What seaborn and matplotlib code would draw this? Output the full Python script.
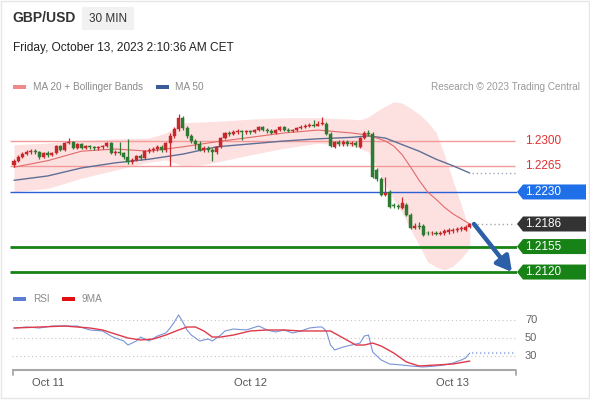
import numpy as np
import pandas as pd
import matplotlib
matplotlib.use("Agg")
import matplotlib.pyplot as plt
import seaborn as sns
from matplotlib.patches import Polygon, Rectangle
from matplotlib.transforms import blended_transform_factory

# ---------------- data ----------------
opens = [1.2267,1.2273,1.2278,1.2282,1.2285,1.2286,1.2285,1.2278,1.2284,1.2281,
         1.2284,1.2293,1.2288,1.2297,1.2299,1.2290,1.2296,1.2290,1.2293,1.2292,
         1.2290,1.2292,1.2293,1.2297,1.2284,1.2285,1.2284,1.2278,1.2271,1.2274,
         1.2279,1.2277,1.2286,1.2288,1.2289,1.2292,1.2288,1.2297,1.2307,1.2316,
         1.2332,1.2318,1.2307,1.2300,1.2296,1.2288,1.2290,1.2288,1.2285,1.2292,
         1.2304,1.2311,1.2310,1.2312,1.2314,1.2312,1.2313,1.2312,1.2315,1.2319,
         1.2315,1.2314,1.2311,1.2315,1.2319,1.2315,1.2314,1.2315,1.2318,1.2319,
         1.2321,1.2322,1.2321,1.2323,1.2323,1.2310,1.2292,1.2299,1.2296,1.2299,
         1.2296,1.2297,1.2292,1.2304,1.2311,1.2310,1.2260,1.2248,1.2226,1.2230,
         1.2212,1.2211,1.2208,1.2212,1.2198,1.2180,1.2183,1.2183,1.2174,1.2173,
         1.2174,1.2172,1.2173,1.2175,1.2176,1.2178,1.2179,1.2178,1.2182]
closes = [1.2273,1.2278,1.2282,1.2285,1.2286,1.2285,1.2278,1.2284,1.2281,1.2284,
          1.2293,1.2288,1.2297,1.2299,1.2290,1.2296,1.2290,1.2293,1.2292,1.2290,
          1.2292,1.2293,1.2297,1.2284,1.2285,1.2284,1.2278,1.2271,1.2274,1.2279,
          1.2277,1.2286,1.2288,1.2289,1.2292,1.2288,1.2297,1.2307,1.2316,1.2332,
          1.2318,1.2307,1.2300,1.2296,1.2288,1.2290,1.2288,1.2285,1.2292,1.2304,
          1.2311,1.2310,1.2312,1.2314,1.2312,1.2313,1.2312,1.2315,1.2319,1.2315,
          1.2314,1.2311,1.2315,1.2319,1.2315,1.2314,1.2315,1.2318,1.2319,1.2321,
          1.2322,1.2321,1.2323,1.2325,1.2310,1.2293,1.2299,1.2296,1.2299,1.2296,
          1.2297,1.2295,1.2304,1.2311,1.2310,1.2251,1.2248,1.2226,1.2229,1.2209,
          1.2211,1.2209,1.2215,1.2198,1.2180,1.2183,1.2182,1.2171,1.2173,1.2174,
          1.2172,1.2173,1.2176,1.2178,1.2178,1.2179,1.2181,1.2182,1.2186]
highs = [1.2275,1.2281,1.2285,1.2288,1.2289,1.2289,1.2286,1.2285,1.2286,1.2285,
         1.2295,1.2295,1.2299,1.2304,1.2300,1.2297,1.2297,1.2295,1.2295,1.2293,
         1.2293,1.2295,1.2299,1.2299,1.2288,1.2299,1.2285,1.2303,1.2277,1.2281,
         1.2282,1.2288,1.2290,1.2292,1.2295,1.2295,1.2299,1.2311,1.2319,1.2337,
         1.2334,1.2321,1.2310,1.2303,1.2300,1.2293,1.2293,1.2290,1.2293,1.2305,
         1.2312,1.2314,1.2315,1.2316,1.2315,1.2315,1.2315,1.2316,1.2321,1.2321,
         1.2318,1.2316,1.2316,1.2321,1.2321,1.2318,1.2316,1.2319,1.2322,1.2323,
         1.2325,1.2329,1.2327,1.2333,1.2326,1.2312,1.2300,1.2301,1.2301,1.2301,
         1.2300,1.2300,1.2305,1.2314,1.2315,1.2312,1.2263,1.2251,1.2251,1.2233,
         1.2215,1.2214,1.2223,1.2215,1.2201,1.2188,1.2189,1.2186,1.2176,1.2176,
         1.2176,1.2176,1.2179,1.2180,1.2180,1.2182,1.2183,1.2184,1.2187]
lows = [1.2264,1.2271,1.2277,1.2281,1.2282,1.2282,1.2275,1.2277,1.2278,1.2280,
        1.2282,1.2286,1.2286,1.2296,1.2289,1.2289,1.2289,1.2289,1.2289,1.2288,
        1.2288,1.2289,1.2292,1.2282,1.2281,1.2281,1.2275,1.2268,1.2268,1.2273,
        1.2274,1.2275,1.2284,1.2285,1.2286,1.2285,1.2285,1.2266,1.2304,1.2314,
        1.2315,1.2304,1.2297,1.2289,1.2286,1.2285,1.2285,1.2273,1.2282,1.2290,
        1.2303,1.2307,1.2308,1.2310,1.2301,1.2310,1.2310,1.2311,1.2314,1.2314,
        1.2311,1.2310,1.2310,1.2314,1.2314,1.2312,1.2312,1.2314,1.2316,1.2318,
        1.2319,1.2319,1.2321,1.2322,1.2308,1.2292,1.2290,1.2293,1.2293,1.2293,
        1.2293,1.2292,1.2290,1.2303,1.2307,1.2249,1.2245,1.2224,1.2224,1.2208,
        1.2208,1.2207,1.2207,1.2197,1.2179,1.2179,1.2179,1.2170,1.2171,1.2171,
        1.2171,1.2171,1.2171,1.2172,1.2174,1.2175,1.2176,1.2176,1.2180]

ma20_idx = [0,8,16,24,32,40,48,56,64,72,80,84,88,90,92,94,96,98,100,102,104,106,108]
ma20 = [1.2264,1.2273,1.2286,1.2289,1.2286,1.2292,1.2299,1.2305,1.2311,1.2315,1.2311,1.2308,
        1.2300,1.2293,1.2281,1.2264,1.2246,1.2230,1.2220,1.2209,1.2200,1.2193,1.2186]
ma50_idx = [0,8,16,24,32,40,48,56,64,72,80,84,88,92,96,100,104,108]
ma50 = [1.2246,1.2252,1.2263,1.2270,1.2275,1.2282,1.2292,1.2296,1.2300,1.2303,1.2305,1.2307,
        1.2304,1.2295,1.2286,1.2275,1.2266,1.2256]
bb_idx = [0,8,16,24,32,36,40,44,48,56,64,72,80,82,84,86,88,90,92,94,96,98,100,102,104,106,108]
bb_upper = [1.2295,1.2297,1.2301,1.2303,1.2304,1.2311,1.2325,1.2326,1.2327,1.2330,1.2332,1.2332,
            1.2330,1.2329,1.2333,1.2341,1.2348,1.2354,1.2352,1.2345,1.2337,1.2326,1.2312,1.2281,
            1.2246,1.2212,1.2175]
bb_lower = [1.2230,1.2235,1.2249,1.2260,1.2271,1.2274,1.2266,1.2267,1.2271,1.2281,1.2290,1.2297,
            1.2293,1.2290,1.2285,1.2263,1.2240,1.2219,1.2201,1.2178,1.2157,1.2134,1.2127,1.2123,
            1.2128,1.2139,1.2153]

rsi_idx = [0,3,6,9,12,15,18,21,23,24,26,27,29,30,32,34,36,37,38,39,40,41,42,44,46,47,49,50,52,55,
           58,60,62,64,66,68,70,72,73,74,75,76,78,80,82,83,84,85,86,87,89,92,94,97,100,102,104,106,107,108]
rsi_val = [61.1,62.2,61.1,63.3,63.3,63.3,58.9,57.8,52.2,50.0,46.7,42.2,46.7,51.1,46.7,52.2,55.6,61.1,67.8,75.6,
           67.8,58.9,53.3,46.7,48.9,46.7,53.3,57.8,60.0,58.9,63.3,58.9,56.7,58.9,55.6,57.8,61.1,62.2,62.2,57.8,
           42.2,36.7,40.0,42.2,44.4,52.2,53.3,34.4,30.0,25.6,21.1,20.0,18.9,17.8,18.9,20.0,22.2,25.6,27.8,33.3]
ma9_idx = [0,6,12,18,21,24,27,30,33,36,39,41,43,45,47,49,52,56,60,64,68,72,75,78,81,83,85,87,90,93,96,100,104,108]
ma9_val = [61.1,62.2,63.3,61.1,58.9,54.4,50.0,47.8,48.9,53.3,58.9,62.2,62.2,57.8,51.1,51.1,53.3,57.8,58.9,58.9,
           57.8,57.8,57.8,50.0,42.2,42.2,44.4,41.1,33.3,23.3,18.9,20.0,21.1,24.4]

resistances = [1.2300, 1.2265]
pivot = 1.2230
last_price = 1.2186
supports = [1.2155, 1.2120]
target = 1.2120
rsi_levels = [70, 50, 30]
day_labels = ["Oct 11", "Oct 12", "Oct 13"]
day_idx = [8, 56, 104]

# ---------------- layout helpers ----------------
sns.set_style("white")
plt.rcParams['font.family'] = ['Liberation Sans', 'DejaVu Sans']

W, H = 590, 400
X0, PXB = 14.0, 4.22           # pixel of first bar, pixels per bar
Y_REF, P_REF, PX_PIP = 141.0, 1.2300, 0.728

def fx(px): return px / W
def fy(py): return 1 - py / H
def bar_at(px): return (px - X0) / PXB
def price_at(py): return P_REF - (py - Y_REF) / PX_PIP * 0.0001
def rsi_at(py): return 70 - (py - 320) / 0.9

fig = plt.figure(figsize=(W / 100, H / 100), dpi=100)
fig.patch.set_facecolor("white")

def rect_px(x0, y0, x1, y1, **kw):
    r = Rectangle((fx(x0), fy(y1)), (x1 - x0) / W, (y1 - y0) / H, transform=fig.transFigure, **kw)
    fig.add_artist(r)

# outer frame
rect_px(0.5, 0.5, 588.5, 397.5, facecolor="none", edgecolor="#e6e6e6", lw=1)

# header
fig.text(fx(12), fy(18), "GBP/USD", fontsize=10, fontweight="bold", color="#333333", va="center")
rect_px(82, 7, 134, 30, facecolor="#f1f1f1", edgecolor="none")
fig.text(fx(108), fy(19), "30 MIN", fontsize=8.5, color="#333333", va="center", ha="center")
fig.text(fx(13), fy(48), "Friday, October 13, 2023 2:10:36 AM CET", fontsize=8.6, color="#222222", va="center")

# legends
rect_px(13, 84.5, 26, 88.5, facecolor="#f08a8a", edgecolor="none")
fig.text(fx(33), fy(86.5), "MA 20 + Bollinger Bands", fontsize=7.2, color="#8a8a8a", va="center")
rect_px(156, 84.5, 169, 88.5, facecolor="#3a5a98", edgecolor="none")
fig.text(fx(175), fy(86.5), "MA 50", fontsize=7.2, color="#8a8a8a", va="center")
fig.text(fx(580), fy(86.5), "Research \u00a9 2023 Trading Central", fontsize=7.2, color="#9a9a9a",
         va="center", ha="right")
rect_px(13, 297, 26, 301, facecolor="#5b7fd6", edgecolor="none")
fig.text(fx(33), fy(299), "RSI", fontsize=7.2, color="#8a8a8a", va="center")
rect_px(62, 297, 75, 301, facecolor="#e01010", edgecolor="none")
fig.text(fx(82), fy(299), "9MA", fontsize=7.2, color="#8a8a8a", va="center")

# ---------------- main price axes ----------------
ax = fig.add_axes([fx(10), fy(280), fx(517) - fx(10), fy(95) - fy(280)])
ax.set_xlim(bar_at(10), bar_at(517))
ax.set_ylim(price_at(280), price_at(95))
ax.axis("off")

ax.fill_between(bb_idx, bb_lower, bb_upper, color="#fde0e0", lw=0, zorder=1)

xa, xb = bar_at(10), bar_at(515)
for r in resistances:
    ax.hlines(r, xa, xb, color="#f39a9a", lw=1.0, zorder=2)
ax.hlines(pivot, xa, bar_at(517), color="#2a5fd6", lw=1.0, zorder=2)
for s in supports:
    ax.hlines(s, xa, bar_at(517), color="#178317", lw=2.0, zorder=2)

df_ma20 = pd.DataFrame({"bar": ma20_idx, "price": ma20})
df_ma50 = pd.DataFrame({"bar": ma50_idx, "price": ma50})
sns.lineplot(data=df_ma50, x="bar", y="price", ax=ax, color="#5f6f96", lw=1.0, estimator=None, zorder=3)
sns.lineplot(data=df_ma20, x="bar", y="price", ax=ax, color="#e26a6a", lw=0.8, estimator=None, zorder=3)
ax.plot([ma50_idx[-1] + 0.5, bar_at(515)], [ma50[-1]] * 2, color="#9aa6bd", lw=1.0,
        ls=(0, (1, 2)), zorder=3)
ax.plot([len(closes) - 0.3, bar_at(515)], [last_price] * 2, color="#a8a8a8", lw=1.0,
        ls=(0, (1, 2)), zorder=3)

# candles
idx = np.arange(len(closes))
o = np.array(opens); c = np.array(closes); h = np.array(highs); l = np.array(lows)
up = c >= o
cols = np.where(up, "#c8282b", "#2f7a32")
ax.vlines(idx, l, h, colors=cols, lw=0.9, zorder=4)
body_lo = np.minimum(o, c)
body_h = np.maximum(np.abs(c - o), 0.00012)
ax.bar(idx, body_h, bottom=body_lo, width=0.72, color=cols, edgecolor=cols, lw=0.3, zorder=5)

# arrow
ax.annotate("", xy=(bar_at(512), target), xytext=(bar_at(474), last_price),
            arrowprops=dict(arrowstyle="-|>,head_length=0.9,head_width=0.5", color="#2d5fa8",
                            lw=3.2, shrinkA=0, shrinkB=0),
            annotation_clip=False, zorder=6)

# right-side labels
trans = blended_transform_factory(fig.transFigure, ax.transData)
hh = 7.5 / PX_PIP * 0.0001
def tag(p, face, txt_col="white", box=True):
    if box:
        pts = [(fx(517), p), (fx(523), p + hh), (fx(586), p + hh), (fx(586), p - hh), (fx(523), p - hh)]
        poly = Polygon(pts, closed=True, transform=trans, facecolor=face, edgecolor="none", clip_on=False)
        ax.add_patch(poly)
    ax.text(fx(525), p, f"{p:.4f}", transform=trans, va="center", ha="left", fontsize=8.5,
            color=txt_col, clip_on=False)

for r in resistances:
    tag(r, None, txt_col="#e03131", box=False)
tag(pivot, "#1f6fe8")
tag(last_price, "#333333")
for s in supports:
    tag(s, "#178317")

# ---------------- RSI axes ----------------
rax = fig.add_axes([fx(10), fy(370), fx(517) - fx(10), fy(300) - fy(370)])
rax.set_xlim(bar_at(10), bar_at(517))
rax.set_ylim(rsi_at(370), rsi_at(300))
rax.axis("off")

for lv in rsi_levels:
    rax.hlines(lv, bar_at(12), bar_at(515), color="#c4c4c4", lw=0.8, linestyles=(0, (1, 2.5)))
    fig.text(fx(525), fy(320 + (70 - lv) * 0.9), str(lv), fontsize=8, color="#666666", va="center")

df_rsi = pd.DataFrame({"bar": rsi_idx, "v": rsi_val})
df_ma9 = pd.DataFrame({"bar": ma9_idx, "v": ma9_val})
sns.lineplot(data=df_rsi, x="bar", y="v", ax=rax, color="#7a93d8", lw=0.8, estimator=None)
sns.lineplot(data=df_ma9, x="bar", y="v", ax=rax, color="#e0394a", lw=1.0, estimator=None)
rax.plot([rsi_idx[-1] + 0.6, bar_at(515)], [rsi_val[-1]] * 2, color="#a9bbea", lw=1.6,
         ls=(0, (0.6, 1.2)))

ybase = rsi_at(370)
rax.plot([bar_at(12), bar_at(516)], [ybase, ybase], color="#a8a8a8", lw=1.5, clip_on=False,
         solid_capstyle="butt")
for xe in (bar_at(12.5), bar_at(515.5)):
    rax.plot([xe, xe], [ybase, rsi_at(375)], color="#a8a8a8", lw=1.3, clip_on=False)
for lab, di in zip(day_labels, day_idx):
    rax.text(di, rsi_at(383), lab, ha="center", va="center", fontsize=8, color="#555555", clip_on=False)

fig.savefig("out.png", dpi=100, facecolor="white")
